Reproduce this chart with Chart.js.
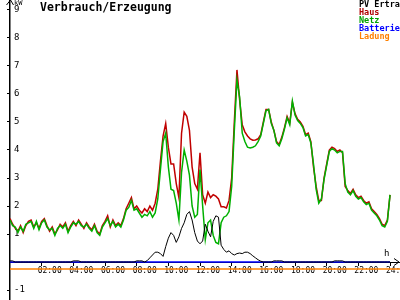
<!DOCTYPE html>
<html>
<head>
<meta charset="utf-8">
<script src="https://cdn.jsdelivr.net/npm/chart.js@4"></script>
<style>
  body { margin: 0; background: #fff; }
  canvas { display: block; }
</style>
</head>
<body>
<canvas id="chart" width="400" height="300"></canvas>
<script>
// 10-minute samples, 00:00 .. 24:00 (kW)
var haus = [
  1.55, 1.35, 1.2, 1.1, 1.3, 1.05,
  1.3, 1.45, 1.5, 1.25, 1.4, 1.2,
  1.45, 1.55, 1.3, 1.1, 1.25, 1.0,
  1.15, 1.35, 1.25, 1.4, 1.1, 1.3,
  1.45, 1.3, 1.5, 1.35, 1.2, 1.4,
  1.25, 1.15, 1.35, 1.1, 1.0, 1.3,
  1.45, 1.65, 1.25, 1.5, 1.3, 1.4,
  1.3, 1.55, 1.9, 2.1, 2.3, 1.9,
  2.0, 1.85, 1.75, 1.9, 1.8, 2.0,
  1.85, 2.1, 2.6, 3.6, 4.5, 4.95,
  4.1, 3.5, 3.5, 2.8, 2.3, 4.6,
  5.35, 5.2, 4.7, 3.4, 2.8, 2.6,
  3.9, 2.4, 2.1, 2.5, 2.3, 2.4,
  2.35, 2.25, 1.97, 1.97, 1.93, 2.2,
  3.0, 5.0, 6.86, 5.8, 4.9, 4.65,
  4.5, 4.4, 4.35, 4.36, 4.4, 4.55,
  5.0, 5.45, 5.45, 5.0, 4.7, 4.3,
  4.2, 4.46, 4.8, 5.2, 4.96, 5.7,
  5.3, 5.1, 5.0, 4.85, 4.55, 4.6,
  4.3, 3.4, 2.7, 2.2, 2.2, 3.0,
  3.5, 4.0, 4.1, 4.05, 3.95, 4.0,
  3.9, 2.7, 2.55, 2.45, 2.6, 2.4,
  2.3, 2.35, 2.2, 2.1, 2.15, 1.9,
  1.8, 1.7, 1.55, 1.35, 1.3, 1.5,
  2.4
];
var netz = [
  1.5, 1.3, 1.25, 1.05, 1.25, 1.1,
  1.35, 1.4, 1.45, 1.2, 1.45, 1.15,
  1.4, 1.5, 1.25, 1.15, 1.2, 0.95,
  1.2, 1.3, 1.2, 1.35, 1.05, 1.25,
  1.4, 1.35, 1.45, 1.3, 1.25, 1.35,
  1.2, 1.1, 1.3, 1.05, 0.95, 1.25,
  1.4, 1.55, 1.3, 1.45, 1.25, 1.35,
  1.25, 1.5, 1.85, 1.95, 2.2, 1.85,
  1.9, 1.75, 1.6, 1.7, 1.65, 1.8,
  1.6, 1.75, 2.25, 3.3, 4.3, 4.6,
  3.4, 2.6, 2.55, 2.1, 1.5, 3.2,
  4.0, 3.6, 3.1, 2.0, 1.6, 1.7,
  3.3, 2.0, 0.8, 1.4, 1.5, 0.95,
  0.7, 0.65, 1.4, 1.6, 1.65, 1.8,
  2.7, 4.7, 6.5, 5.9, 4.6, 4.3,
  4.1, 4.07, 4.1, 4.15, 4.3, 4.5,
  4.95, 5.4, 5.45, 4.95, 4.7, 4.25,
  4.15, 4.4, 4.75, 5.15, 4.9, 5.75,
  5.25, 5.05, 4.95, 4.8, 4.5, 4.55,
  4.25, 3.5, 2.6, 2.1, 2.25, 2.95,
  3.45, 3.95, 4.05, 4.0, 3.9, 3.95,
  3.95, 2.8, 2.5, 2.4, 2.55, 2.35,
  2.25, 2.3, 2.15, 2.05, 2.1, 1.85,
  1.75, 1.65, 1.5, 1.3, 1.25, 1.45,
  2.4
];
var pvErtrag = [
  0.04, 0.04, 0, 0, 0, 0,
  0, 0, 0, 0, 0, 0,
  0, 0, 0, 0, 0, 0,
  0, 0, 0, 0, 0, 0,
  0.04, 0.04, 0.04, 0, 0, 0,
  0, 0, 0, 0, 0, 0,
  0, 0, 0, 0, 0, 0,
  0, 0, 0, 0, 0, 0,
  0.04, 0.04, 0.04, 0, 0.05, 0.15,
  0.25, 0.35, 0.35, 0.3, 0.2, 0.55,
  0.85, 1.05, 0.95, 0.7, 0.9, 1.2,
  1.4, 1.7, 1.8, 1.5, 1.05, 0.75,
  0.65, 0.75, 1.35, 1.1, 0.9, 1.45,
  1.65, 1.6, 0.6, 0.45, 0.35, 0.4,
  0.3, 0.25, 0.3, 0.32, 0.3, 0.35,
  0.35, 0.3, 0.22, 0.15, 0.08, 0.03,
  0, 0, 0, 0, 0.04, 0.04,
  0.04, 0.04, 0, 0, 0, 0,
  0, 0, 0, 0, 0, 0,
  0, 0, 0, 0, 0, 0,
  0, 0, 0, 0.04, 0.04, 0.04,
  0.04, 0, 0, 0, 0, 0,
  0, 0, 0, 0, 0, 0,
  0, 0, 0, 0, 0, 0,
  0
];
var batterieTimes = [0, 24];
var batterie = [0, 0];
var ladungTimes = [0, 24.7];
var ladung = [-0.25, -0.25];

var xTicks = [2, 4, 6, 8, 10, 12, 14, 16, 18, 20, 22, 24];
var yTicks = [-1, 1, 2, 3, 4, 5, 6, 7, 8, 9];
var legendNames = ["PV Ertrag", "Haus", "Netz", "Batterie", "Ladung"];
var legendColors = ["#000000", "#b00000", "#00a000", "#0000ff", "#ff8000"];

// sample grid: one point every 10 minutes
var times = haus.map(function(v, i) { return i / 6; });

function pts(xs, ys) {
  return ys.map(function(v, i) { return { x: xs[i], y: v }; });
}

var mono = "'DejaVu Sans Mono', monospace";

var decor = {
  id: "decor",
  afterDraw: function(chart) {
    var c = chart.ctx;
    var x0 = chart.scales.x.getPixelForValue(0);
    var y0 = chart.scales.y.getPixelForValue(0);
    c.save();
    c.strokeStyle = "#000";
    c.lineWidth = 1;
    // axis arrows
    c.beginPath();
    c.moveTo(x0 - 3.5, 5); c.lineTo(x0 + 0.5, 0); c.lineTo(x0 + 3.5, 5);
    c.moveTo(394, y0 - 3.5); c.lineTo(399, y0); c.lineTo(394, y0 + 3.5);
    c.stroke();
    c.fillStyle = "#000";
    c.textBaseline = "top";
    c.font = "bold 11.5px " + mono;
    c.fillText("Verbrauch/Erzeugung", 40, 2);
    c.font = "7px " + mono;
    c.fillText("kW", 14, 0);
    c.font = "9px " + mono;
    c.fillText("h", 384, y0 - 13);
    c.font = "bold 8.5px " + mono;
    legendNames.forEach(function(n, i) {
      c.fillStyle = legendColors[i];
      c.fillText(n, 359, 1 + i * 7.8);
    });
    c.restore();
  }
};

var ctx = document.getElementById("chart").getContext("2d");
var chart = new Chart(ctx, {
  type: "line",
  data: {
    datasets: [
      { label: "PV Ertrag", data: pts(times, pvErtrag), borderColor: "#000000", borderWidth: 1 },
      { label: "Batterie", data: pts(batterieTimes, batterie), borderColor: "#0000ff", borderWidth: 1.5 },
      { label: "Netz", data: pts(times, netz), borderColor: "#00b000", borderWidth: 1.5 },
      { label: "Haus", data: pts(times, haus), borderColor: "#c00000", borderWidth: 1.5 },
      { label: "Ladung", data: pts(ladungTimes, ladung), borderColor: "#ff8000", borderWidth: 1.5 }
    ]
  },
  options: {
    responsive: false,
    animation: false,
    layout: { padding: 0 },
    elements: { point: { radius: 0 }, line: { tension: 0 } },
    plugins: { legend: { display: false }, tooltip: { enabled: false } },
    scales: {
      x: {
        type: "linear",
        min: 0,
        max: 24.63,
        position: { y: 0 },
        afterFit: function(s) {
          s.height = 0;
          s.paddingLeft = 0; s.paddingRight = 0;
          s.paddingTop = 0; s.paddingBottom = 0;
        },
        afterBuildTicks: function(s) { s.ticks = xTicks.map(function(v) { return { value: v }; }); },
        border: { color: "#000", width: 1 },
        grid: { drawOnChartArea: false, tickLength: 3, color: "#000" },
        ticks: {
          autoSkip: false,
          maxRotation: 0,
          padding: 1,
          labelOffset: 8,
          color: "#000",
          font: { family: mono, size: 8 },
          callback: function(v) { return (v < 10 ? "0" : "") + v + ":00"; }
        }
      },
      y: {
        type: "linear",
        min: -1.357,
        max: 9.357,
        position: "left",
        afterFit: function(s) {
          s.width = 10;
          s.paddingLeft = 0; s.paddingRight = 0;
          s.paddingTop = 0; s.paddingBottom = 0;
        },
        afterBuildTicks: function(s) { s.ticks = yTicks.map(function(v) { return { value: v }; }); },
        border: { color: "#000", width: 1.5 },
        grid: { drawOnChartArea: false, tickLength: 3, color: "#000" },
        ticks: {
          mirror: true,
          padding: 4,
          color: "#000",
          font: { family: mono, size: 9 },
          callback: function(v) { return "" + v; }
        }
      }
    }
  },
  plugins: [decor]
});
</script>
</body>
</html>
